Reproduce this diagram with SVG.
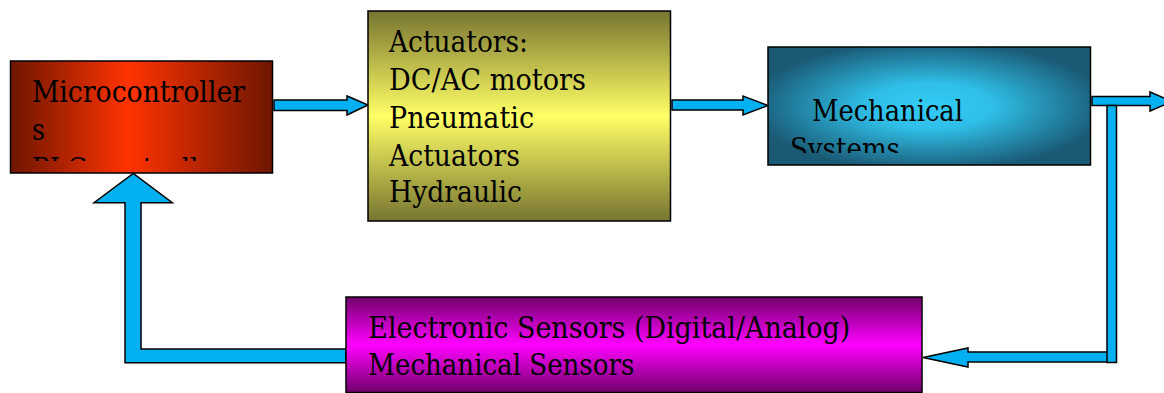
<svg xmlns="http://www.w3.org/2000/svg" width="1164" height="393" viewBox="0 0 1164 393">
<defs>
<linearGradient id="gMicro" x1="0" y1="0" x2="1" y2="0">
<stop offset="0" stop-color="#6e1600"/><stop offset="0.45" stop-color="#ff3300"/><stop offset="1" stop-color="#6e1600"/>
</linearGradient>
<linearGradient id="gAct" x1="0" y1="0" x2="0" y2="1">
<stop offset="0" stop-color="#777530"/><stop offset="0.5" stop-color="#ffff66"/><stop offset="1" stop-color="#777530"/>
</linearGradient>
<radialGradient id="gMech" cx="0.5" cy="0.5" r="0.55">
<stop offset="0" stop-color="#33ccf5"/><stop offset="0.35" stop-color="#2fbfe8"/><stop offset="1" stop-color="#1a5a75"/>
</radialGradient>
<linearGradient id="gSens" x1="0" y1="0" x2="0" y2="1">
<stop offset="0" stop-color="#70006a"/><stop offset="0.5" stop-color="#ff00ff"/><stop offset="1" stop-color="#70006a"/>
</linearGradient>
<clipPath id="cMicro"><rect x="12" y="62" width="259" height="99"/></clipPath>
<clipPath id="cMech"><rect x="770" y="48" width="319" height="105"/></clipPath>
</defs>
<style>
.box{stroke:#000;stroke-width:1.5}
.t{font-family:"DejaVu Serif","Liberation Serif",serif;font-size:30px;fill:#000}
.arr{fill:#00b0f0;stroke:#000;stroke-width:1.5;stroke-linejoin:miter}
</style>
<g id="connectors">
<polygon class="arr" points="274,100 347,100 347,96 368,105 347,115 347,110.5 274,110.5"/>
<polygon class="arr" points="672,100 743,100 743,96 768,105.5 743,115 743,110 672,110"/>
<polygon class="arr" points="1092,96.5 1150,96.5 1150,92 1172,101.5 1150,111 1150,105.5 1092,105.5"/>
<polygon class="arr" points="1108,352 968,352 968,348 923,357.5 968,367 968,362 1108,362"/>
<rect class="arr" x="1107" y="105.5" width="9.5" height="257"/>
<polygon class="arr" points="346,349 141,349 141,202.7 172.3,202.7 133.3,173.5 94,202.7 125,202.7 125,362.7 346,362.7"/>
</g>
<g id="micro">
<rect class="box" x="10.5" y="61" width="262" height="112" fill="url(#gMicro)"/>
<g clip-path="url(#cMicro)">
<text class="t" x="32" y="101.5" textLength="213" lengthAdjust="spacingAndGlyphs">Microcontroller</text>
<text class="t" x="32" y="140" textLength="13" lengthAdjust="spacingAndGlyphs">s</text>
<text class="t" x="32" y="178.5" textLength="208" lengthAdjust="spacingAndGlyphs">PLC controllers</text>
</g>
</g>
<g id="actuators">
<rect class="box" x="368" y="11" width="302.5" height="210" fill="url(#gAct)"/>
<text class="t" x="389" y="52.3" textLength="139" lengthAdjust="spacingAndGlyphs">Actuators:</text>
<text class="t" x="389" y="90" textLength="197" lengthAdjust="spacingAndGlyphs">DC/AC motors</text>
<text class="t" x="389" y="128" textLength="145" lengthAdjust="spacingAndGlyphs">Pneumatic</text>
<text class="t" x="389" y="165.7" textLength="131" lengthAdjust="spacingAndGlyphs">Actuators</text>
<text class="t" x="389" y="201.7" textLength="133" lengthAdjust="spacingAndGlyphs">Hydraulic</text>
</g>
<g id="mechanical">
<rect class="box" x="768" y="47" width="322.5" height="118" fill="url(#gMech)"/>
<g clip-path="url(#cMech)">
<text class="t" x="812" y="120.5" textLength="151" lengthAdjust="spacingAndGlyphs">Mechanical</text>
<text class="t" x="790" y="158.5" textLength="110" lengthAdjust="spacingAndGlyphs">Systems</text>
</g>
</g>
<g id="sensors">
<rect class="box" x="346" y="297" width="576" height="95.5" fill="url(#gSens)"/>
<text class="t" x="368.3" y="338.3" textLength="482" lengthAdjust="spacingAndGlyphs">Electronic Sensors (Digital/Analog)</text>
<text class="t" x="368.3" y="375" textLength="266" lengthAdjust="spacingAndGlyphs">Mechanical Sensors</text>
</g>
</svg>
